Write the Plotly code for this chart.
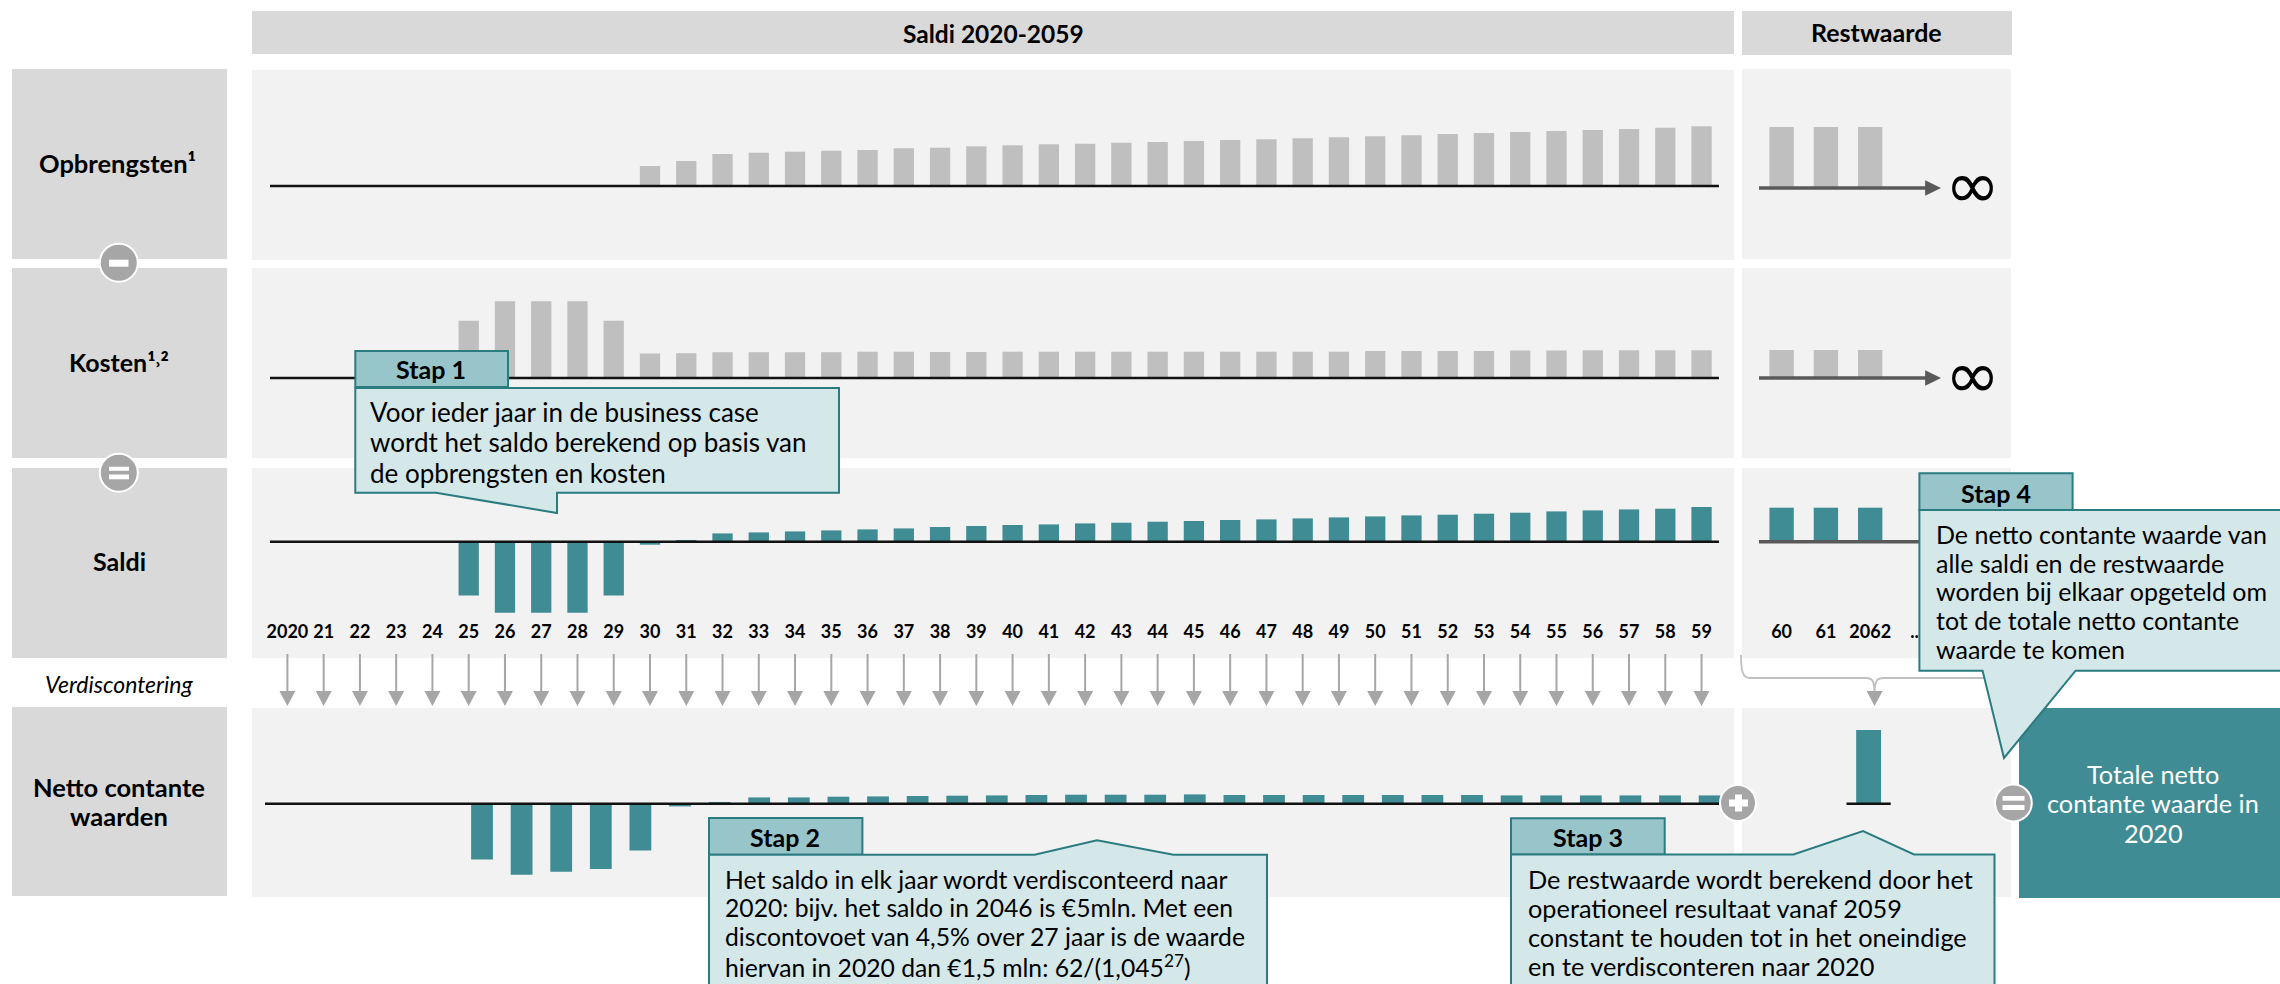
import plotly.graph_objects as go

W, H = 2280, 984
FONT = "Lato"
GREY_BAR = "#bfbfbf"
TEAL = "#408c94"

# ---------- data ----------
years = list(range(2020, 2060))
year_labels = ["2020"] + [str(y)[2:] for y in years[1:]]
opbrengsten = [0]*10 + [20, 25, 32, 33.3, 34.3, 35.3, 36, 37.7, 38.3, 39.7,
                        40.7, 41.7, 42.3, 43.3, 44, 45, 46, 46.7, 47.7, 48.7,
                        49.7, 50.7, 52, 53, 54, 55, 56, 57, 58.3, 59.7]
kosten = [0]*5 + [57.3, 76.7, 76.7, 76.7, 57.3,
                  24.5, 24.8, 25.8, 25.8, 25.8, 25.8, 26.3, 26.3, 26, 26,
                  26.3, 26.3, 26.3, 26.3, 26.3, 26.3, 26.3, 26.3, 26.3, 26.3,
                  27, 27, 27, 27, 27.5, 27.5, 27.7, 27.7, 27.7, 27.7]
saldi = [0]*5 + [-53.7, -71, -71, -71, -53.7,
                 -3, 1.3, 8.3, 9.3, 10.3, 11.3, 12.3, 13.3, 14.7, 15.7,
                 16.7, 17.3, 18.3, 19, 20, 20.7, 21.7, 22.3, 23.3, 24.3,
                 25.3, 26.3, 27, 28, 29, 30.3, 31.3, 32.3, 33, 34.7]
ncw_years = list(range(2025, 2057))
ncw = [-55.7, -71, -68, -65.3, -46.7,
       -2.7, 1.3, 6.3, 6.3, 7, 7.3, 7.7, 8, 8.3, 8.7,
       9, 9, 9, 9.3, 8.7, 8.7, 8.7, 8.7, 8.7, 8.7,
       8.7, 8.3, 8.3, 8.3, 8.3, 8.3, 8.3]
rest_labels = ["60", "61", "2062", ".."]
rest_pos = [0, 1, 2]
rest_opbrengsten = [61, 61, 61]
rest_kosten = [28, 28, 28]
rest_saldi = [34, 34, 34]
rest_ncw = [73.7]

# ---------- pixel helpers ----------
def X(v): return v / W
def Y(v): return 1 - v / H

def x_axis(left, right, origin_px, origin_val, step, **kw):
    """linear axis whose domain sits at left..right px with a given px-per-unit"""
    return dict(domain=[X(left), X(right)],
                range=[origin_val + (left - origin_px) / step,
                       origin_val + (right - origin_px) / step],
                showgrid=False, zeroline=False, showline=False, **kw)

def y_axis(top, bottom, base):
    """1 data unit = 1 px; 0 sits on the baseline"""
    return dict(domain=[Y(bottom), Y(top)], range=[base - bottom, base - top],
                visible=False, showgrid=False, zeroline=False)

fig = go.Figure()

BLACK_LINE = dict(color="#111111", width=2.5)

def bars(x, y, xa, ya, color, width):
    fig.add_trace(go.Bar(x=x, y=y, xaxis=xa, yaxis=ya, width=width,
                         marker=dict(color=color, line=dict(width=0)),
                         showlegend=False))

def base_line(x0, x1, xa, ya):
    fig.add_trace(go.Scatter(x=[x0, x1], y=[0, 0], xaxis=xa, yaxis=ya, mode="lines",
                             line=BLACK_LINE, showlegend=False))

# year rows
bars(years, opbrengsten, "x", "y", GREY_BAR, 0.56)
bars(years, kosten, "x", "y2", GREY_BAR, 0.56)
bars(years, saldi, "x", "y3", TEAL, 0.56)
bars(ncw_years, ncw, "x2", "y4", TEAL, 0.55)
base_line(2019.52, 2059.48, "x", "y")
base_line(2019.52, 2059.48, "x", "y2")
base_line(2019.52, 2059.48, "x", "y3")
base_line(2019.52, 2056.24, "x2", "y4")

# discount arrows
sx, sy, hx, hy = [], [], [], []
for yr in years:
    sx += [yr, yr, None]
    sy += [654, 692, None]
    hx += [yr - 0.22, yr + 0.22, yr, None]
    hy += [691, 691, 706, None]
fig.add_trace(go.Scatter(x=sx, y=sy, xaxis="x", yaxis="y5", mode="lines",
                         line=dict(color="#a6a6a6", width=2), showlegend=False))
fig.add_trace(go.Scatter(x=hx, y=hy, xaxis="x", yaxis="y5", mode="lines", fill="toself",
                         fillcolor="#a6a6a6", line=dict(width=0), showlegend=False))

# rest rows
bars(rest_pos, rest_opbrengsten, "x3", "y6", GREY_BAR, 0.55)
bars(rest_pos, rest_kosten, "x3", "y2", GREY_BAR, 0.55)
bars(rest_pos, rest_saldi, "x3", "y3", TEAL, 0.55)
bars([0], rest_ncw, "x4", "y4", TEAL, 0.563)
base_line(-0.5, 0.5, "x4", "y4")
for ya in ["y6", "y2", "y3"]:
    fig.add_trace(go.Scatter(x=[-0.51, 3.3], y=[0, 0], xaxis="x3", yaxis=ya, mode="lines",
                             line=dict(color="#595959", width=3.5), showlegend=False))
    fig.add_trace(go.Scatter(x=[3.24, 3.6, 3.24], y=[7.8, 0, -7.8], xaxis="x3", yaxis=ya,
                             mode="lines", fill="toself", fillcolor="#595959",
                             line=dict(width=0), showlegend=False))

# ---------- shapes ----------
shapes = []
def rect(x0, y0, x1, y1, fill, layer="below", line=None):
    shapes.append(dict(type="rect", xref="paper", yref="paper", x0=X(x0), x1=X(x1),
                       y0=Y(y1), y1=Y(y0), fillcolor=fill, layer=layer,
                       line=line or dict(width=0)))

def poly(pts, fill, layer="above", line=None):
    d = "M " + " L ".join(f"{X(a):.5f},{Y(b):.5f}" for a, b in pts) + " Z"
    shapes.append(dict(type="path", xref="paper", yref="paper", path=d, fillcolor=fill,
                       layer=layer, line=line or dict(width=0)))

def circle(cx, cy, r):
    shapes.append(dict(type="circle", xref="paper", yref="paper", x0=X(cx - r), x1=X(cx + r),
                       y0=Y(cy + r), y1=Y(cy - r), fillcolor="#a6a6a6", layer="above",
                       line=dict(color="#ffffff", width=2)))

HDR, PANEL = "#d9d9d9", "#f2f2f2"
rect(252, 11, 1734, 54, HDR)
rect(1742, 11, 2012, 55, HDR)
for t, b in [(69, 259), (268, 458), (468, 658), (707, 896)]:
    rect(12, t, 227, b, HDR)
for t, b in [(70, 260), (268, 458), (468, 658), (708, 897)]:
    rect(252, t, 1734, b, PANEL)
for t, b in [(69, 259), (268, 458), (468, 658), (708, 897)]:
    rect(1742, t, 2011, b, PANEL)
rect(2019, 708, 2280, 898, TEAL)

# bracket to the residual-value arrow
shapes.append(dict(type="path", xref="paper", yref="paper", layer="above",
                   line=dict(color="#bfbfbf", width=1.8),
                   path=(f"M {X(1741)},{Y(655)} C {X(1741)},{Y(672)} {X(1743)},{Y(678)} {X(1750)},{Y(678)} "
                         f"L {X(1866)},{Y(678)} C {X(1872)},{Y(678)} {X(1874)},{Y(680)} {X(1874.6)},{Y(692)} "
                         f"C {X(1875)},{Y(680)} {X(1877)},{Y(678)} {X(1884)},{Y(678)} L {X(1990)},{Y(678)}")))
poly([(1866.6, 691), (1882.6, 691), (1874.6, 706)], "#a6a6a6")

# callouts
EDGE = dict(color="#2b7c80", width=2)
BODY, TAB = "#d5e8e9", "#98c5c9"
def callout(tab, body_pts):
    rect(*tab, TAB, layer="above", line=EDGE)
    poly(body_pts, BODY, line=EDGE)

callout((355.3, 351, 508, 387),
        [(355.3, 388), (839, 388), (839, 492.7), (557, 492.7), (557, 513), (436, 492.7), (355.3, 492.7)])
callout((709, 818, 862.4, 854.7),
        [(709, 854.7), (1034.6, 854.7), (1097, 840.3), (1173.5, 854.7), (1267, 854.7), (1267, 990), (709, 990)])
callout((1511, 818.3, 1664.7, 854.5),
        [(1511, 854.5), (1793.5, 854.5), (1863, 831), (1914, 854.5), (1994.5, 854.5), (1994.5, 990), (1511, 990)])
callout((1919.4, 473.3, 2072.6, 510),
        [(1919.4, 510), (2290, 510), (2290, 670.7), (2075.6, 670.7), (2004, 758), (1982.6, 670.7), (1919.4, 670.7)])

# operator circles
for c in [(118.8, 262.7, 19), (118.8, 472.7, 19), (1738, 803, 18), (2013.4, 803, 18.4)]:
    circle(*c)
WHITE = "#ffffff"
rect(109, 259.7, 128.5, 266.7, WHITE, layer="above")
rect(109, 466.7, 129, 470.8, WHITE, layer="above")
rect(109, 474.5, 129, 479.3, WHITE, layer="above")
rect(1729, 799.5, 1748, 806.5, WHITE, layer="above")
rect(1735, 794.5, 1742, 811.5, WHITE, layer="above")
rect(2002.5, 796, 2024.5, 800.7, WHITE, layer="above")
rect(2002.5, 805, 2024.5, 810, WHITE, layer="above")

# ---------- text ----------
ann = []
def txt(x, y, s, size=25, bold=False, color="#000000", anchor="center", italic=False, family=FONT):
    ann.append(dict(xref="paper", yref="paper", x=X(x), y=Y(y), text=s, showarrow=False,
                    xanchor=anchor, yanchor="middle", align=anchor,
                    font=dict(family=family, size=size, color=color,
                              weight=700 if bold else 400,
                              style="italic" if italic else "normal")))

txt(993, 33, "Saldi 2020-2059", bold=True, size=24.5)
txt(1876.6, 32, "Restwaarde", bold=True, size=25)
txt(117.5, 163, "Opbrengsten¹", bold=True, size=25.5)
txt(119, 362, "Kosten¹˒²", bold=True)
txt(119, 561, "Saldi", bold=True)
txt(119, 684, "Verdiscontering", size=23, italic=True)
txt(119, 787, "Netto contante", bold=True, size=25.5)
txt(119, 816, "waarden", bold=True, size=25.5)
for y in (185.7, 375.7):
    txt(1972, y, "∞", size=66, family="DejaVu Sans")

txt(431, 369, "Stap 1", bold=True)
txt(785, 837, "Stap 2", bold=True)
txt(1587.6, 837, "Stap 3", bold=True)
txt(1996, 492.7, "Stap 4", bold=True)

blocks = [
    (368, 26, [411.7, 442, 472.7], ["Voor ieder jaar in de business case",
                                     "wordt het saldo berekend op basis van",
                                     "de opbrengsten en kosten"]),
    (723, 24.7, [879, 907.7, 936.7, 965.7], ["Het saldo in elk jaar wordt verdisconteerd naar",
                                             "2020: bijv. het saldo in 2046 is €5mln. Met een",
                                             "discontovoet van 4,5% over 27 jaar is de waarde",
                                             "hiervan in 2020 dan €1,5 mln: 62/(1,045<sup>27</sup>)"]),
    (1525.5, 25.3, [879, 907.7, 936.7, 965.7], ["De restwaarde wordt berekend door het",
                                                 "operationeel resultaat vanaf 2059",
                                                 "constant te houden tot in het oneindige",
                                                 "en te verdisconteren naar 2020"]),
    (1933.5, 25, [534, 562.7, 591, 620, 649], ["De netto contante waarde van",
                                               "alle saldi en de restwaarde",
                                               "worden bij elkaar opgeteld om",
                                               "tot de totale netto contante",
                                               "waarde te komen"]),
]
for x0, size, ys, lines in blocks:
    for y, s in zip(ys, lines):
        txt(x0, y, s, anchor="left", size=size)
for y, s in zip([773.7, 803, 833], ["Totale netto", "contante waarde in", "2020"]):
    txt(2153, y, s, color="#ffffff", size=25.3)

tick = dict(family=FONT, size=18, color="#000000", weight=700)
fig.update_layout(
    width=W, height=H, margin=dict(l=0, r=0, t=0, b=0),
    paper_bgcolor="#ffffff", plot_bgcolor="rgba(0,0,0,0)",
    barmode="overlay", showlegend=False, hovermode=False,
    shapes=shapes, annotations=ann,
    xaxis=x_axis(252, 1734, 287.4, 2020, 36.26, anchor="free", position=Y(619),
                 tickmode="array", tickvals=years, ticktext=year_labels, tickfont=tick,
                 ticks="", tickangle=0),
    xaxis2=x_axis(252, 1734, 680, 2030, 39.6, anchor="y4", visible=False),
    xaxis3=x_axis(1742, 2011, 1781.6, 0, 44.3, anchor="free", position=Y(619),
                  tickmode="array", tickvals=[0, 1, 2, 3], ticktext=rest_labels, tickfont=tick,
                  ticks="", tickangle=0),
    xaxis4=x_axis(1742, 2011, 1868.6, 0, 44.2, anchor="y4", visible=False),
    yaxis=y_axis(70, 260, 186),
    yaxis2=y_axis(268, 458, 378),
    yaxis3=y_axis(468, 658, 541.7),
    yaxis4=y_axis(708, 897, 803.7),
    yaxis5=dict(domain=[Y(712), Y(650)], range=[712, 650], visible=False),
    yaxis6=y_axis(69, 259, 188),
)
fig.write_html("out.html", config={"displayModeBar": False},
               post_script="document.body.style.margin='0';document.body.style.overflow='hidden';")
